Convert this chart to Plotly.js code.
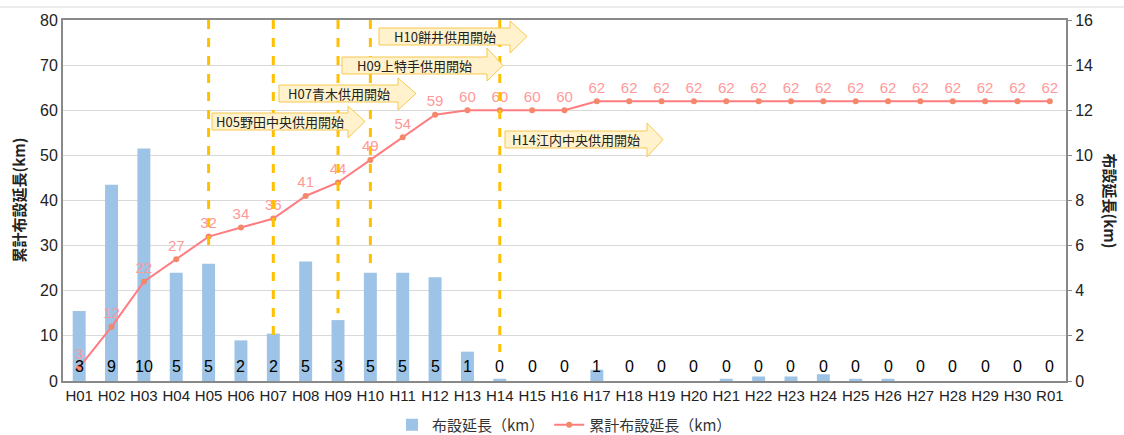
<!DOCTYPE html>
<html>
<head>
<meta charset="utf-8">
<script src="https://cdn.plot.ly/plotly-3.0.1.min.js"></script>
<style>
  html, body { margin: 0; padding: 0; background: #fff; }
  #chart { width: 1124px; height: 435px; }
</style>
</head>
<body>
<div id="chart"></div>
<script>
// ---- data ----
const categories = ['H01','H02','H03','H04','H05','H06','H07','H08','H09','H10',
  'H11','H12','H13','H14','H15','H16','H17','H18','H19','H20',
  'H21','H22','H23','H24','H25','H26','H27','H28','H29','H30','R01'];
const annualLength = [3.1, 8.7, 10.3, 4.8, 5.2, 1.8, 2.1, 5.3, 2.7, 4.8,
  4.8, 4.6, 1.3, 0.1, 0, 0, 0.5, 0, 0, 0,
  0.1, 0.2, 0.2, 0.3, 0.1, 0.1, 0, 0, 0, 0, 0];
const annualLabels = ['3','9','10','5','5','2','2','5','3','5',
  '5','5','1','0','0','0','1','0','0','0',
  '0','0','0','0','0','0','0','0','0','0','0'];
const cumulativeLength = [3, 12, 22, 27, 32, 34, 36, 41, 44, 49,
  54, 59, 60, 60, 60, 60, 62, 62, 62, 62,
  62, 62, 62, 62, 62, 62, 62, 62, 62, 62, 62];
const eventYears = ['H05', 'H07', 'H09', 'H10', 'H14'];
const eventLineEnds = [28.4, 9.8, 15, 25.3, 6.4];
const eventLabels = ['H05野田中央供用開始', 'H07青木供用開始', 'H09上特手供用開始', 'H10餅井供用開始', 'H14江内中央供用開始'];
const seriesNames = ['布設延長（km）', '累計布設延長（km）'];

// ---- layout helpers (pixel geometry of the plot area) ----
const W = 1124, H = 435;
const M = {l: 63, r: 58, t: 20, b: 54, autoexpand: false};
const PW = W - M.l - M.r, PH = H - M.t - M.b;
const px = x => (x - M.l) / PW;
const py = y => (H - M.b - y) / PH;

// arrow callout geometry in pixels: [left, top, bottom, headBase, tip, headTop, headBottom]
const arrowGeom = [
  [212, 113, 130, 348, 365, 106, 138],
  [279, 85, 102, 398, 416, 78, 110],
  [342, 57, 74, 487, 503, 48, 81],
  [379, 28, 45, 510, 527, 21, 53],
  [505, 131, 148, 647, 663, 123, 157]
];

const JP = '"Noto Sans CJK JP", "Noto Sans", sans-serif';
const NUM = '"Liberation Sans Narrow", "Liberation Sans", Arial, sans-serif';

const traces = [
  {
    type: 'bar', name: seriesNames[0], x: categories, y: annualLength, yaxis: 'y',
    marker: {color: '#9DC3E6'}, width: 0.4, hoverinfo: 'x+y'
  },
  {
    type: 'scatter', mode: 'lines+markers+text', name: seriesNames[1],
    x: categories, y: cumulativeLength, yaxis: 'y2',
    line: {color: '#FF7C80', width: 2},
    marker: {color: '#F4886B', size: 6},
    text: cumulativeLength.map(String), textposition: 'top center',
    textfont: {family: NUM, size: 15, color: '#FF9999'},
    cliponaxis: false
  }
];

const shapes = [];
// outer top border line
shapes.push({type: 'line', xref: 'paper', yref: 'paper', x0: px(0), x1: px(W), y0: py(7), y1: py(7),
  line: {color: '#D9D9D9', width: 1}, layer: 'above'});
// dashed event lines
eventYears.forEach((c, i) => {
  shapes.push({type: 'line', xref: 'x', yref: 'y2', x0: c, x1: c, y0: 80, y1: eventLineEnds[i],
    line: {color: '#FFC000', width: 3, dash: 'dash'}, layer: 'above'});
});
// arrow callouts
const annotations = [];
arrowGeom.forEach((g, i) => {
  const [l, t, b, hb, tip, ht, hbm] = g;
  const mid = (t + b) / 2;
  const pts = [[l, t], [hb, t], [hb, ht], [tip, mid], [hb, hbm], [hb, b], [l, b]];
  const path = 'M ' + pts.map(p => px(p[0]).toFixed(5) + ',' + py(p[1]).toFixed(5)).join(' L ') + ' Z';
  shapes.push({type: 'path', xref: 'paper', yref: 'paper', path: path,
    fillcolor: '#FFF2CC', line: {color: '#F8C850', width: 1}, layer: 'above'});
  annotations.push({xref: 'paper', yref: 'paper', x: px((l + hb) / 2), y: py(mid),
    xanchor: 'center', yanchor: 'middle', showarrow: false, text: eventLabels[i],
    font: {family: JP, size: 13, color: '#222222'}});
});
// bar value labels near the base
categories.forEach((c, i) => {
  annotations.push({xref: 'x', yref: 'y2', x: c, y: 3.3, text: annualLabels[i], showarrow: false,
    xanchor: 'center', yanchor: 'middle', font: {family: NUM, size: 16, color: '#000000'}});
});
// axis titles
annotations.push({xref: 'paper', yref: 'paper', x: px(18), y: 0.5, textangle: -90, showarrow: false,
  text: '<b>累計布設延長(km)</b>', font: {family: JP, size: 15, color: '#222'}, xanchor: 'center', yanchor: 'middle'});
annotations.push({xref: 'paper', yref: 'paper', x: px(1110), y: 0.5, textangle: 90, showarrow: false,
  text: '<b>布設延長(km)</b>', font: {family: JP, size: 15, color: '#222'}, xanchor: 'center', yanchor: 'middle'});

const layout = {
  width: W, height: H,
  margin: M,
  paper_bgcolor: '#ffffff', plot_bgcolor: '#ffffff',
  showlegend: true,
  legend: {orientation: 'h', x: 0.5, xanchor: 'center', y: py(425), yanchor: 'middle',
    font: {family: JP, size: 15, color: '#333'}, traceorder: 'normal', itemwidth: 30},
  xaxis: {type: 'category', range: [-0.5, categories.length - 0.5], autorange: false,
    showline: true, linecolor: '#898989', linewidth: 2, mirror: true,
    ticks: '', tickangle: 0, automargin: false,
    tickfont: {family: NUM, size: 15, color: '#222'}, showgrid: false, fixedrange: true},
  yaxis: {range: [0, 16], autorange: false, dtick: 2, side: 'right', showline: true,
    linecolor: '#898989', linewidth: 2, gridcolor: '#D9D9D9', gridwidth: 1, zeroline: false,
    automargin: false, ticks: 'outside', ticklen: 4, tickcolor: '#898989',
    tickfont: {family: NUM, size: 16, color: '#222'}},
  yaxis2: {range: [0, 80], autorange: false, dtick: 10, overlaying: 'y', side: 'left', showline: true,
    linecolor: '#898989', linewidth: 2, showgrid: false, zeroline: false, ticks: '', automargin: false,
    tickfont: {family: NUM, size: 16, color: '#222'}},
  shapes: shapes,
  annotations: annotations,
  bargap: 0.6
};

Plotly.newPlot('chart', traces, layout, {displayModeBar: false, staticPlot: true});
</script>
</body>
</html>
